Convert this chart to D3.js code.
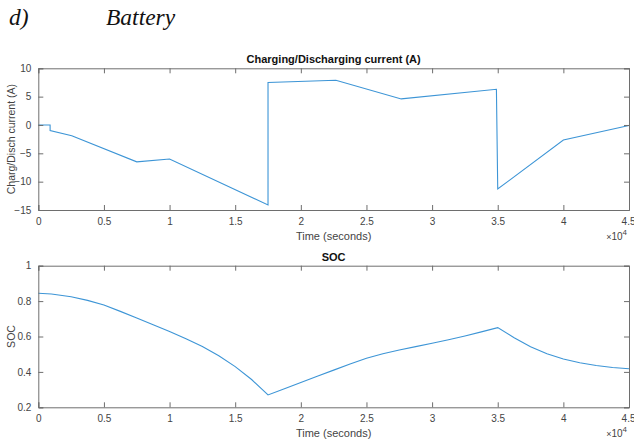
<!DOCTYPE html>
<html>
<head>
<meta charset="utf-8">
<script src="https://cdn.jsdelivr.net/npm/d3@7"></script>
<style>
  body { margin: 0; background: #fff; }
  svg { display: block; }
  text { font-family: "Liberation Sans", Arial, sans-serif; }
</style>
</head>
<body>
<svg id="chart" width="634" height="445"></svg>
<script>
// Battery current profile (time in seconds, current in A)
const currentTime = [0, 900, 900, 2550, 7500, 10000, 17500, 17500, 22670, 27650, 34900, 35000, 40000, 45000];
const currentValue = [0, 0, -1.0, -1.9, -6.5, -6.0, -14.1, 7.5, 7.9, 4.6, 6.3, -11.3, -2.65, -0.1];

// Battery state of charge (time in seconds, SOC fraction)
const socTime = [0, 1000, 2500, 3750, 5000, 6250, 7500, 8750, 10000, 11250, 12500, 13750, 15000, 16250, 17500,
                 18750, 20000, 21250, 22500, 23750, 25000, 26250, 27500, 28750, 30000, 31250, 32500, 33750, 35000,
                 36250, 37500, 38750, 40000, 41250, 42500, 43750, 45000];
const socValue = [0.844, 0.840, 0.825, 0.804, 0.778, 0.742, 0.704, 0.666, 0.628, 0.587, 0.543, 0.491, 0.430, 0.357, 0.270,
                  0.305, 0.340, 0.375, 0.410, 0.445, 0.477, 0.503, 0.524, 0.543, 0.562, 0.582, 0.603, 0.626, 0.650,
                  0.593, 0.542, 0.502, 0.473, 0.452, 0.436, 0.425, 0.418];

const xTicks = [0, 5000, 10000, 15000, 20000, 25000, 30000, 35000, 40000, 45000];
const currentTicks = [-15, -10, -5, 0, 5, 10];
const socTicks = [0.2, 0.4, 0.6, 0.8, 1];

const svg = d3.select("#chart");
const axisColor = "#6e6e6e";
const textColor = "#444";
const lineColor = "#3d95d6";

// Figure header
svg.append("text").attr("x", 9).attr("y", 25)
  .style("font-family", "'Liberation Serif', 'Times New Roman', serif")
  .style("font-style", "italic").style("font-size", "23.5px").attr("fill", "#111").text("d)");
svg.append("text").attr("x", 106).attr("y", 25)
  .style("font-family", "'Liberation Serif', 'Times New Roman', serif")
  .style("font-style", "italic").style("font-size", "23.5px").attr("fill", "#111").text("Battery");

function panel(cfg) {
  const { left, right, top, bottom } = cfg;
  const x = d3.scaleLinear().domain([0, 45000]).range([left, right]);
  const y = d3.scaleLinear().domain(cfg.yDomain).range([bottom, top]);
  const g = svg.append("g");

  // Plot line
  const line = d3.line().x((d, i) => x(cfg.xs[i])).y(d => y(d)).curve(d3.curveLinear);
  g.append("path").datum(cfg.ys).attr("d", line)
    .attr("fill", "none").attr("stroke", lineColor).attr("stroke-width", 1.1);

  const tickLen = 5;
  const fmtX = d => d3.format("~g")(d / 10000);
  // Bottom axis (ticks inward)
  const bx = d3.axisBottom(x).tickValues(xTicks).tickSize(-tickLen).tickPadding(8).tickFormat(fmtX);
  const gb = g.append("g").attr("transform", `translate(0,${bottom})`).call(bx);
  // Top axis (ticks only)
  const tx = d3.axisTop(x).tickValues(xTicks).tickSize(-tickLen).tickFormat("");
  const gt = g.append("g").attr("transform", `translate(0,${top})`).call(tx);
  // Left axis
  const ly = d3.axisLeft(y).tickValues(cfg.yTicks).tickSize(-tickLen).tickPadding(7).tickFormat(d3.format("~g"));
  const gl = g.append("g").attr("transform", `translate(${left},0)`).call(ly);
  // Right axis (ticks only)
  const ry = d3.axisRight(y).tickValues(cfg.yTicks).tickSize(-tickLen).tickFormat("");
  const gr = g.append("g").attr("transform", `translate(${right},0)`).call(ry);

  [gb, gt, gl, gr].forEach(a => {
    a.select(".domain").attr("stroke", axisColor);
    a.selectAll(".tick line").attr("stroke", axisColor);
    a.selectAll(".tick text").attr("fill", textColor).style("font-size", "10px")
      .style("font-family", "'Liberation Sans', Arial, sans-serif");
  });
  gb.selectAll(".tick text").attr("dy", "0.71em");
  // The last x tick label sits against the figure edge
  gb.selectAll(".tick text").filter(d => d === 45000).attr("text-anchor", "end").attr("dx", 6);

  // Title
  g.append("text").attr("x", (left + right) / 2).attr("y", top - 5)
    .attr("text-anchor", "middle").style("font-size", "11px").style("font-weight", "bold")
    .attr("fill", "#111").text(cfg.title);
  // X label
  g.append("text").attr("x", (left + right) / 2).attr("y", bottom + 30)
    .attr("text-anchor", "middle").style("font-size", "11px").attr("fill", textColor)
    .text("Time (seconds)");
  // Y label
  g.append("text").attr("transform", `translate(${cfg.yLabelX},${(top + bottom) / 2}) rotate(-90)`)
    .attr("text-anchor", "middle").style("font-size", "10.5px").attr("fill", textColor)
    .text(cfg.yLabel);
  // Exponent marker
  const ex = g.append("text").attr("x", right - 2).attr("y", bottom + 30)
    .attr("text-anchor", "end").style("font-size", "10px").attr("fill", textColor);
  ex.append("tspan").text("\u00d7").style("font-size", "9px");
  ex.append("tspan").text("10");
  ex.append("tspan").text("4").attr("dy", -5).style("font-size", "8px");
}

panel({
  left: 38.3, right: 629, top: 68.3, bottom: 210,
  xs: currentTime, ys: currentValue, yDomain: [-15, 10], yTicks: currentTicks,
  title: "Charging/Discharging current (A)", yLabel: "Charg/Disch current (A)", yLabelX: 15
});

panel({
  left: 38.3, right: 629, top: 265.7, bottom: 407.3,
  xs: socTime, ys: socValue, yDomain: [0.2, 1], yTicks: socTicks,
  title: "SOC", yLabel: "SOC", yLabelX: 15
});
</script>
</body>
</html>
